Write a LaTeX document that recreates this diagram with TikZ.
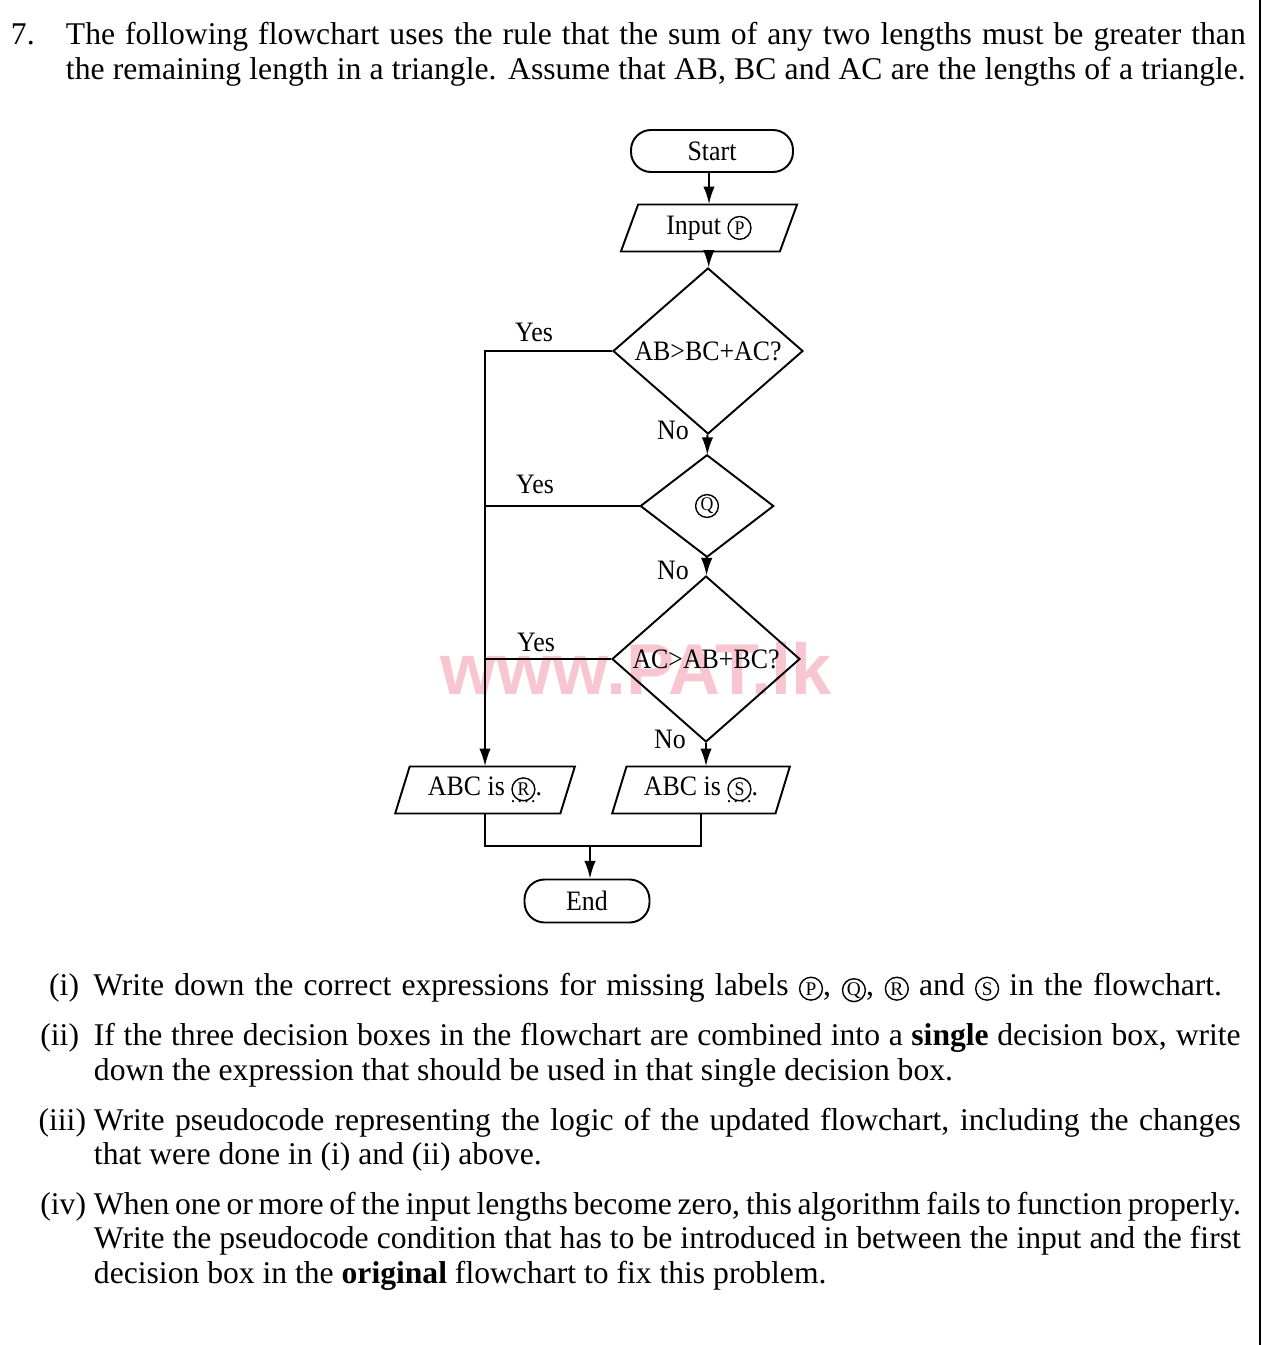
\documentclass[tikz,border=0pt]{standalone}
\usepackage{fontspec}
\setmainfont{Liberation Serif}
\newfontfamily\chartfont[FakeStretch=0.92]{Liberation Serif}
\newfontfamily\markfont{Liberation Sans}
\usetikzlibrary{arrows.meta,shapes.geometric}
\definecolor{markpink}{RGB}{248,198,208}
\newcommand{\encl}[1]{\tikz[baseline=(c.base)]\node[draw,circle,line width=0.8pt,inner sep=0pt,
  minimum size=13pt,font=\fontsize{11}{11}\selectfont] (c) {#1};}
\newcommand{\blank}[1]{\encl{#1}\makebox[0pt][r]{\raisebox{-4pt}{\fontsize{11}{11}\selectfont.\kern1.3pt.\kern1.3pt.\kern1.3pt.}}.}

\begin{document}
\begin{tikzpicture}[x=0.02cm,y=-0.02cm,>={Latex[length=10pt,width=6.5pt]},line width=1.1pt,
    every node/.style={font=\chartfont\fontsize{16}{19}\selectfont},
    txt/.style={anchor=base west,inner sep=0pt,font=\fontsize{18}{21}\selectfont},
    num/.style={txt,anchor=base east},
    term/.style={draw,rounded corners=0.4cm,minimum height=0.84cm,inner sep=0pt},
    io/.style={draw,trapezium,trapezium left angle=67,trapezium right angle=113,
      trapezium stretches=true,minimum height=0.94cm,inner sep=0pt},
    test/.style={draw,diamond,inner sep=0pt},
    tag/.style={inner sep=0pt}]
    \useasboundingbox (0,0) rectangle (1269,1345);

    % watermark and page edge
    \node[text=markpink,font=\markfont\bfseries\fontsize{41}{42}\selectfont] (mark) at (636,668) {www.PAT.lk};
    \draw[line width=1.3pt] (1260,0) -- (1260,1345);

    % question
    \node[txt] (num) at (10,45) {7.};
    \node[txt] (introA) at (65,45) {\makebox[23.6cm][s]{The following flowchart uses the rule that the sum of any two lengths must be greater than}};
    \node[txt] (introB) at (65,80) {\makebox[23.6cm][s]{the remaining length in a triangle. Assume that AB, BC and AC are the lengths of a triangle.}};

    % flowchart boxes
    \node[term,minimum width=3.24cm] (start) at (712,151) {Start};
    \node[io,minimum width=3.54cm] (input) at (709,228) {Input \encl{P}};
    \node[test,minimum width=3.8cm,minimum height=2.7cm] (testAB) at (708,351) {AB>BC+AC?};
    \node[test,minimum width=2.66cm,minimum height=2.04cm] (testQ) at (707,506) {\encl{Q}};
    \node[test,minimum width=3.76cm,minimum height=2.68cm] (testAC) at (706,659) {AC>AB+BC?};
    \node[io,minimum width=3.6cm] (isR) at (485,790) {ABC is \blank{R}};
    \node[io,minimum width=3.56cm] (isS) at (701,790) {ABC is \blank{S}};
    \node[term,minimum width=2.5cm,minimum height=0.86cm] (stop) at (587,901) {End};

    % branch labels
    \node[tag] (yesA) at (534,332) {Yes};
    \node[tag] (yesQ) at (535,484) {Yes};
    \node[tag] (yesC) at (536,642) {Yes};
    \node[tag] (noA) at (673,430) {No};
    \node[tag] (noQ) at (673,570) {No};
    \node[tag] (noC) at (670,739) {No};

    % connectors
    \draw[->] (input.north |- start.south) -- (input.north);
    \draw[->] (input) -- (testAB);
    \draw[->] (testAB) -- (testQ);
    \draw[->] (testQ) -- (testAC);
    \draw[->] (testAC.south) -- (testAC.south |- isS.north);
    \draw[->] (testAB.west) -| (isR.north);
    \draw (testQ.west) -- (testQ.west -| isR.north);
    \draw (testAC.west) -- (testAC.west -| isR.north);
    \coordinate (merge) at (590,846);
    \draw (isR.south) |- (merge) -| (isS.south);
    \draw[->] (merge) -- (merge |- stop.north);

    % parts
    \node[num] (partA) at (80,995) {(i)};
    \node[txt] (partAa) at (93,995) {\makebox[22.58cm][s]{Write down the correct expressions for missing labels \encl{P}, \encl{Q}, \encl{R} and \encl{S} in the flowchart.}};
    \node[num] (partB) at (80,1045) {(ii)};
    \node[txt] (partBa) at (93,1045) {\makebox[22.94cm][s]{If the three decision boxes in the flowchart are combined into a \textbf{single} decision box, write}};
    \node[txt] (partBb) at (93,1080) {down the expression that should be used in that single decision box.};
    \node[num] (partC) at (87,1130) {(iii)};
    \node[txt] (partCa) at (93,1130) {\makebox[22.94cm][s]{Write pseudocode representing the logic of the updated flowchart, including the changes}};
    \node[txt] (partCb) at (93,1164) {that were done in (i) and (ii) above.};
    \node[num] (partD) at (87,1214) {(iv)};
    \node[txt] (partDa) at (93,1214) {\makebox[22.94cm][s]{When one or more of the input lengths become zero, this algorithm fails to function properly.}};
    \node[txt] (partDb) at (93,1248) {\makebox[22.94cm][s]{Write the pseudocode condition that has to be introduced in between the input and the first}};
    \node[txt] (partDc) at (93,1283) {decision box in the \textbf{original} flowchart to fix this problem.};
\end{tikzpicture}
\end{document}
